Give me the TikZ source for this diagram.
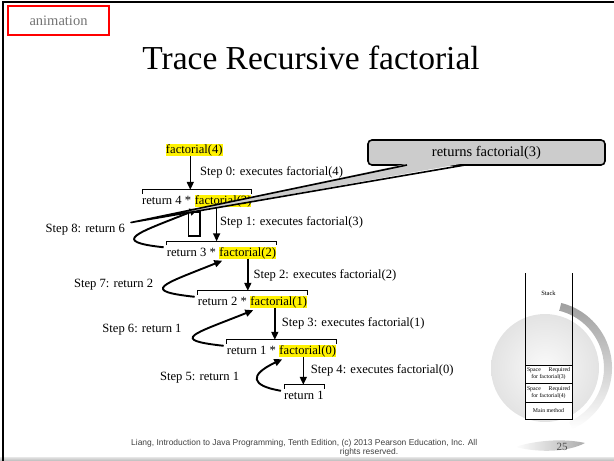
\documentclass[tikz,border=0pt]{standalone}
\usepackage{fontspec}
\setmainfont{Liberation Serif}
\newfontfamily\footfont{Liberation Sans}
\usetikzlibrary{arrows.meta,positioning,calc}

% bracket over one return line, #3 names its top left point
\newcommand{\retbrk}[3]{%
	\coordinate (#3) at ([yshift=5pt]#1.north west);
	\draw[brk] (#3) ++(0,4) -- ++(0,-4) -- ([yshift=5pt]#2.north east) -- ++(0,4);}

\begin{document}
\begin{tikzpicture}[%
	x=1pt,y=-1pt,>={Triangle[length=8pt,width=7pt]},
	font=\fontsize{12.6}{14}\selectfont,
	ret/.style={inner sep=0pt,text height=9.5pt,text depth=2.5pt},
	hl/.style={ret,fill=yellow},
	steptext/.style={inner sep=0pt,anchor=west},
	backtext/.style={inner sep=0pt,anchor=east},
	brk/.style={line width=0.7pt},
	down/.style={->,line width=1.6pt},
	back/.style={->,line width=1.9pt},
	cell/.style={draw,line width=0.6pt,fill=white,minimum width=47pt,inner sep=0pt,outer sep=0pt,
		align=center,anchor=north west,font=\fontsize{5.8}{6.8}\selectfont},
	foot/.style={font=\footfont\fontsize{8.45}{10}\selectfont,text=black!75,inner sep=0pt}]

	\useasboundingbox (0,0) rectangle (614,461);

	% slide frame and header
	\shade[top color=gray!20,bottom color=gray!55] (0,457) rectangle (614,461);
	\draw[line width=2pt] (3,461) -- (3,1.5) -- (614,1.5);
	\node[draw=red,line width=2pt,minimum width=101pt,minimum height=29pt,anchor=north west,text=black!55,
		font=\fontsize{14.5}{16}\selectfont] (anim) at (7,5) {animation};
	\node[font=\fontsize{33.5}{36}\selectfont,anchor=base] (title) at (311,69) {Trace Recursive factorial};

	% globe and stack
	\shade[inner color=gray!4,outer color=gray!22] (545,368) circle (54pt);
	\shade[top color=gray!75,bottom color=white]
		($(545,368)+(76:67pt)$) arc[start angle=76,end angle=-66,radius=67pt]
		-- ($(545,368)+(-66:59pt)$) arc[start angle=-66,end angle=76,radius=59pt] -- cycle;
	\draw[line width=0.7pt] (525,273) -- (525,419) (572,273) -- (572,419);
	\node[font=\fontsize{6.5}{7}\selectfont] (stk) at (548.5,293) {Stack};
	\node[cell,minimum height=18pt] (sp3) at (525,365) {\makebox[43pt][s]{Space Required}\\for factorial(3)};
	\node[cell,minimum height=19pt,below=0pt of sp3] (sp4) {\makebox[43pt][s]{Space Required}\\for factorial(4)};
	\node[cell,minimum height=17pt,below=0pt of sp4] (mainm) {Main method};

	% calls
	\node[hl] (f4) at (194.3,150) {factorial(4)};
	\node[ret,anchor=west] (r4) at (142,201) {return 4 *};
	\node[hl,right=3.2pt of r4] (f3) {factorial(3)};
	\node[ret,anchor=west] (r3) at (166.7,252.5) {return 3 *};
	\node[hl,right=3.2pt of r3] (f2) {factorial(2)};
	\node[ret,anchor=west] (r2) at (197.7,302) {return 2 *};
	\node[hl,right=3.2pt of r2] (f1) {factorial(1)};
	\node[ret,anchor=west] (r1) at (226.7,351) {return 1 *};
	\node[hl,right=3.2pt of r1] (f0) {factorial(0)};
	\node[ret,anchor=west] (r0) at (284,396) {return 1};

	\retbrk{r4}{f3}{b4}
	\retbrk{r3}{f2}{b3}
	\retbrk{r2}{f1}{b2}
	\retbrk{r1}{f0}{b1}
	\retbrk{r0}{r0}{b0}

	\coordinate (a4) at ([xshift=-4pt]f4.south);
	\coordinate (a3) at ([xshift=-6.5pt]f3.south);
	\coordinate (a2) at (f2.south);
	\coordinate (a1) at ([xshift=-4pt]f1.south);
	\coordinate (a0) at ([xshift=-4.5pt]f0.south);
	\draw[down] (a4) -- (a4 |- b4);
	\draw[down] (a3) -- (a3 |- b3);
	\draw[down] (a2) -- (a2 |- b2);
	\draw[down] (a1) -- (a1 |- b1);
	\draw[down] (a0) -- (a0 |- b0);

	\node[steptext] (s0) at (200,172) {Step 0: executes factorial(4)};
	\node[steptext] (s1) at (220,222) {Step 1: executes factorial(3)};
	\node[steptext] (s2) at (253.3,275) {Step 2: executes factorial(2)};
	\node[steptext] (s3) at (281.7,323.5) {Step 3: executes factorial(1)};
	\node[steptext] (s4) at (310.7,370) {Step 4: executes factorial(0)};

	% returns
	\draw[line width=1.5pt,fill=white] (188.5,212) rectangle (200,236);

	\draw[back] ([xshift=-3pt,yshift=-1pt]r0.north west) .. controls +(-30,-5) and +(-34,16) ..
		([xshift=3pt,yshift=-2pt]f0.south west);
	\draw[back] ([xshift=-3pt,yshift=-1pt]r1.north west) .. controls +(-55,-6) and +(-60,24) ..
		([xshift=3pt,yshift=-2pt]f1.south west);
	\draw[back] ([xshift=-3pt,yshift=-1pt]r2.north west) .. controls +(-55,-6) and +(-60,24) ..
		([xshift=3pt,yshift=-2pt]f2.south west);
	\draw[back] ([xshift=-3pt,yshift=-1pt]r3.north west) .. controls +(-55,-6) and +(-60,24) ..
		([xshift=3pt,yshift=-2pt]f3.south west);

	\node[backtext] (s5) at (239.3,378) {Step 5: return 1};
	\node[backtext] (s6) at (181.7,330) {Step 6: return 1};
	\node[backtext] (s7) at (153.3,284.5) {Step 7: return 2};
	\node[backtext] (s8) at (125,229.3) {Step 8: return 6};

	% callout
	\node[draw,fill=gray!40,rounded corners=4pt,line width=1.6pt,minimum width=237pt,minimum height=25pt,
		font=\fontsize{14.5}{16}\selectfont] (ret3) at (486.5,152.5) {returns factorial(3)};
	\coordinate (tip) at (131,222.5);
	\fill[gray!40] (408.5,163.4) -- (tip) -- (463.5,163.4) -- cycle;
	\draw[line width=1.6pt,line join=round] (407,165) -- (tip) -- (465,165);

	% footer
	\shade[left color=white,right color=gray!65] (515,447) .. controls (540,439) and (568,439) .. (585,443)
		.. controls (568,452) and (540,453) .. (515,447) -- cycle;
	\node[font=\fontsize{11}{12}\selectfont,text=black!70] (pg) at (562,446.5) {25};
	\node[foot,anchor=west] (foot1) at (131,443)
		{Liang, Introduction to Java Programming, Tenth Edition, (c) 2013 Pearson Education, Inc. All};
	\node[foot] (foot2) at (369,452.5) {rights reserved.};

\end{tikzpicture}
\end{document}
